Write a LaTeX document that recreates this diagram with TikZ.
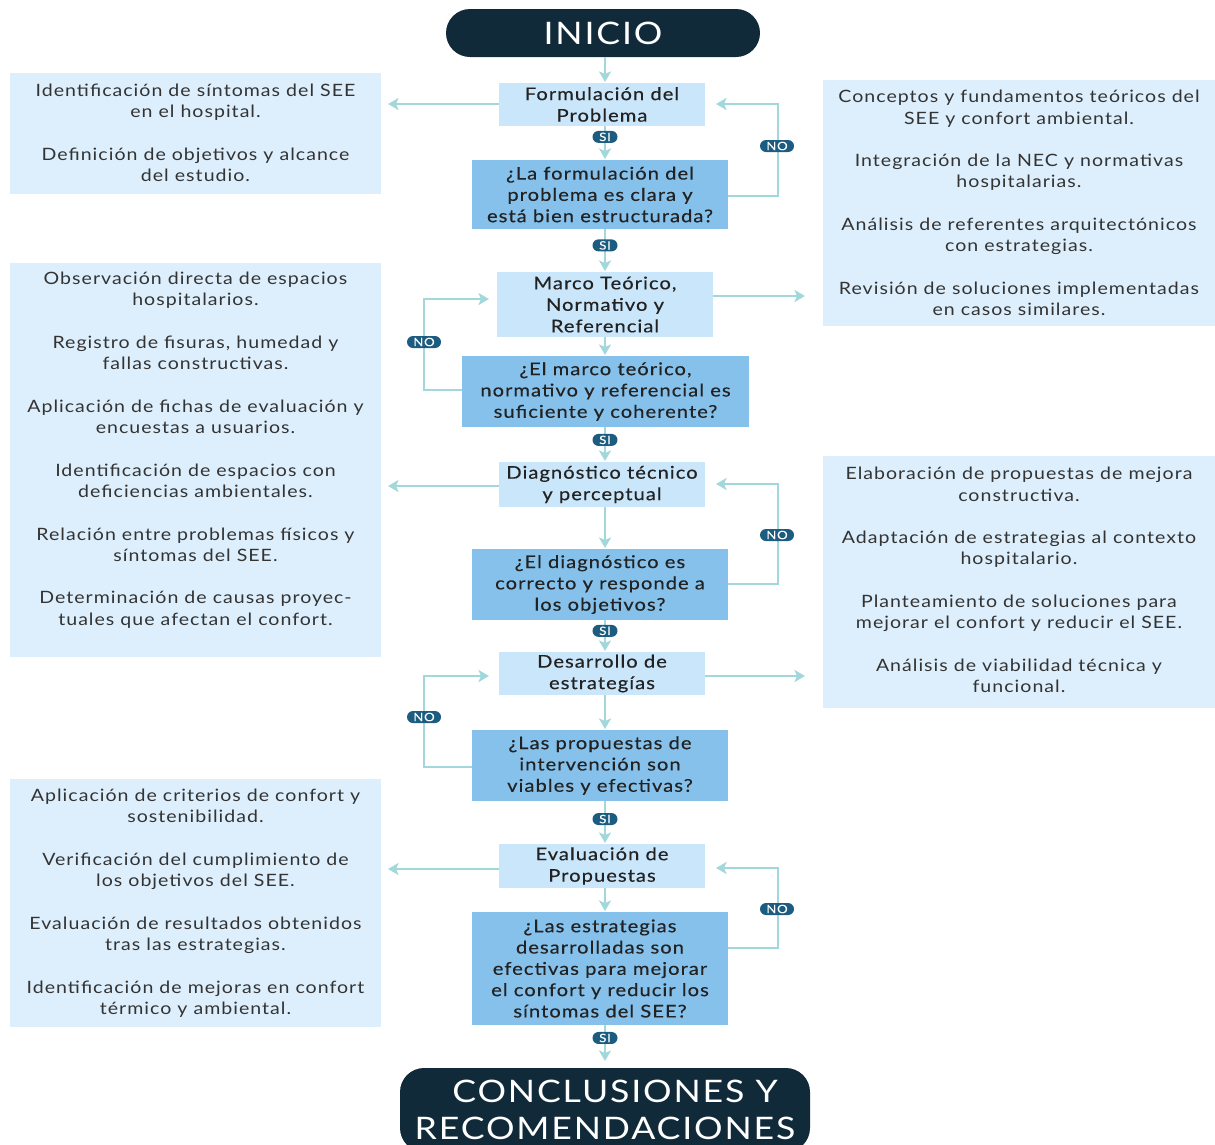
\documentclass[tikz,border=0pt]{standalone}
\usepackage{fontspec}
\setmainfont{Lato}[FakeStretch=1.15,LetterSpace=6]
\newfontfamily\medfont{Lato}[FakeStretch=1.15,LetterSpace=6,FakeBold=0.35]
\usetikzlibrary{arrows.meta}
\definecolor{termc}{HTML}{102A3A}
\definecolor{boxc}{HTML}{C9E6FA}
\definecolor{decc}{HTML}{86C1EB}
\definecolor{panc}{HTML}{DDEFFC}
\definecolor{arrc}{HTML}{A2D8DC}
\definecolor{badgec}{HTML}{1B5C80}
\definecolor{txtc}{HTML}{222222}
\definecolor{ptxtc}{HTML}{333333}
\tikzset{
  term/.style={fill=termc, rounded corners=24pt, text=white, align=center, inner sep=0pt,
    font=\fontsize{31}{37}\selectfont},
  procbox/.style={fill=boxc, align=center, inner sep=0pt, text=txtc,
    font=\medfont\fontsize{17.5}{21.5}\selectfont},
  decbox/.style={fill=decc, align=center, inner sep=0pt, text=txtc,
    font=\medfont\fontsize{17.5}{21.3}\selectfont},
  ptext/.style={align=center, inner sep=0pt, text=ptxtc, font=\fontsize{17}{21.3}\selectfont},
  panel/.style={fill=panc},
  flow/.style={draw=arrc, line width=2.4pt, -{Stealth[length=10.5pt,width=12pt,inset=2.5pt]}},
  badge/.style={fill=badgec, text=white, rounded corners=6pt, inner sep=0pt,
    minimum height=12pt, font=\medfont\fontsize{11.5}{12}\selectfont},
  si/.style={badge, minimum width=25pt},
  no/.style={badge, minimum width=34pt},
}
\begin{document}
\begin{tikzpicture}[x=1pt,y=-1pt]
\useasboundingbox (0,0) rectangle (1215,1144);
% panels
\fill[panel] (10,73) rectangle (381,194);
\fill[panel] (823,80) rectangle (1215,326);
\fill[panel] (10,263) rectangle (381,657);
\fill[panel] (823,456) rectangle (1215,708);
\fill[panel] (10,779) rectangle (381,1027);
\node[ptext] (p1) at (195.5,133) {Identificación de síntomas del SEE\\en el hospital.\\[21.3pt]Definición de objetivos y alcance\\del estudio.};
\node[ptext] (p2) at (1019,203) {Conceptos y fundamentos teóricos del\\SEE y confort ambiental.\\[21.3pt]Integración de la NEC y normativas\\hospitalarias.\\[21.3pt]Análisis de referentes arquitectónicos\\con estrategias.\\[21.3pt]Revisión de soluciones implementadas\\en casos similares.};
\node[ptext] (p3) at (195.5,450) {Observación directa de espacios\\hospitalarios.\\[21.3pt]Registro de fisuras, humedad y\\fallas constructivas.\\[21.3pt]Aplicación de fichas de evaluación y\\encuestas a usuarios.\\[21.3pt]Identificación de espacios con\\deficiencias ambientales.\\[21.3pt]Relación entre problemas físicos y\\síntomas del SEE.\\[21.3pt]Determinación de causas proyec-\\tuales que afectan el confort.};
\node[ptext] (p4) at (1019,580) {Elaboración de propuestas de mejora\\constructiva.\\[21.3pt]Adaptación de estrategias al contexto\\hospitalario.\\[21.3pt]Planteamiento de soluciones para\\mejorar el confort y reducir el SEE.\\[21.3pt]Análisis de viabilidad técnica y\\funcional.};
\node[ptext] (p5) at (195.5,903) {Aplicación de criterios de confort y\\sostenibilidad.\\[21.3pt]Verificación del cumplimiento de\\los objetivos del SEE.\\[21.3pt]Evaluación de resultados obtenidos\\tras las estrategias.\\[21.3pt]Identificación de mejoras en confort\\térmico y ambiental.};
% main column
\node[term, minimum width=314pt, minimum height=48pt] (ini) at (603,33) {INICIO};
\node[procbox, minimum width=206pt, minimum height=43pt] (f1) at (602,104.5) {Formulación del\\Problema};
\node[decbox, minimum width=256pt, minimum height=69pt] (d1) at (600,194.5) {¿La formulación del\\problema es clara y\\está bien estructurada?};
\node[procbox, minimum width=216pt, minimum height=65pt] (f2) at (605,304.5) {Marco Teórico,\\Normativo y\\Referencial};
\node[decbox, minimum width=287pt, minimum height=71pt] (d2) at (605.5,391.5) {¿El marco teórico,\\normativo y referencial es\\suficiente y coherente?};
\node[procbox, minimum width=206pt, minimum height=45pt] (f3) at (602,484.5) {Diagnóstico técnico\\y perceptual};
\node[decbox, minimum width=256pt, minimum height=71pt] (d3) at (600,584.5) {¿El diagnóstico es\\correcto y responde a\\los objetivos?};
\node[procbox, minimum width=206pt, minimum height=43pt] (f4) at (602,673.5) {Desarrollo de\\estrategías};
\node[decbox, minimum width=256pt, minimum height=71pt] (d4) at (600,765.5) {¿Las propuestas de\\intervención son\\viables y efectivas?};
\node[procbox, minimum width=206pt, minimum height=44pt] (f5) at (602,866) {Evaluación de\\Propuestas};
\node[decbox, minimum width=256pt, minimum height=113pt] (d5) at (600,968.5) {¿Las estrategias\\desarrolladas son\\efectivas para mejorar\\el confort y reducir los\\síntomas del SEE?};
\node[term, minimum width=410pt, minimum height=84pt] (fin) at (605,1110) {\hspace*{20pt}CONCLUSIONES Y\\RECOMENDACIONES};
% coordinates
\coordinate (c1) at (388,104);
\coordinate (c2) at (805,296);
\coordinate (c3) at (388,486);
\coordinate (c4) at (805,676);
\coordinate (c5) at (388,869);
% vertical flow
\draw[flow] (ini.south -| 605,0) -- (605,82);
\draw[flow] (605,126) -- (605,159) node[si, pos=0.33] (s1) {SI};
\draw[flow] (605,229) -- (605,271) node[si, pos=0.39] (s2) {SI};
\draw[flow] (605,337) -- (605,355);
\draw[flow] (605,427) -- (605,461) node[si, pos=0.38] (s3) {SI};
\draw[flow] (605,507) -- (605,548);
\draw[flow] (605,620) -- (605,651) node[si, pos=0.35] (s4) {SI};
\draw[flow] (605,695) -- (605,729);
\draw[flow] (605,801) -- (605,843) node[si, pos=0.43] (s5) {SI};
\draw[flow] (605,888) -- (605,911);
\draw[flow] (605,1025) -- (605,1061) node[si, pos=0.36] (s6) {SI};
% side arrows
\draw[flow] (f1.west |- 0,104) -- (c1);
\draw[flow] (f2.east |- 0,296) -- (c2);
\draw[flow] (f3.west |- 0,486) -- (c3);
\draw[flow] (f4.east |- 0,676) -- (c4);
\draw[flow] (f5.west |- 0,869) -- (c5);
% NO loops
\draw[flow] (d1.east |- 0,196) -- (778,196) -- (778,104) -- (716,104);
\node[no] (n1) at (777,146) {NO};
\draw[flow] (d2.west |- 0,390) -- (424,390) -- (424,299) -- (489,299);
\node[no] (n2) at (424,342) {NO};
\draw[flow] (d3.east |- 0,584) -- (778,584) -- (778,484) -- (716,484);
\node[no] (n3) at (777,535) {NO};
\draw[flow] (d4.west |- 0,767) -- (424,767) -- (424,676) -- (489,676);
\node[no] (n4) at (424,717) {NO};
\draw[flow] (d5.east |- 0,948) -- (778,948) -- (778,868) -- (716,868);
\node[no] (n5) at (777,909) {NO};
\end{tikzpicture}
\end{document}
